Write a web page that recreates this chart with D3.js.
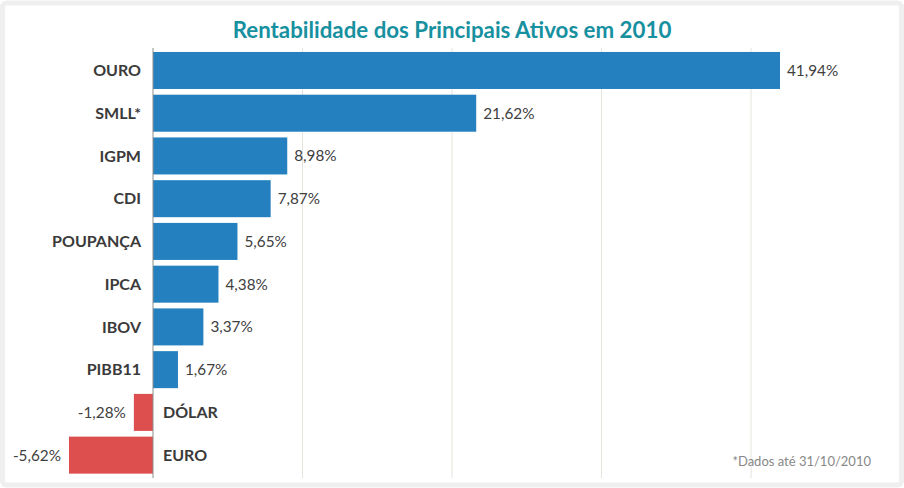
<!DOCTYPE html>
<html><head><meta charset="utf-8">
<script src="https://cdn.jsdelivr.net/npm/d3@7"></script>
<style>
body{margin:0;background:#fff;}
svg{display:block;font-family:Lato, "Open Sans", sans-serif;}
</style></head>
<body>
<svg id="c" width="904" height="488"></svg>
<script>
const categories = ["OURO","SMLL*","IGPM","CDI","POUPANÇA","IPCA","IBOV","PIBB11","DÓLAR","EURO"];
const values = [41.94,21.62,8.98,7.87,5.65,4.38,3.37,1.67,-1.28,-5.62];
const gridTicks = [10,20,30,40];
const title = "Rentabilidade dos Principais Ativos em 2010";
const footnote = "*Dados até 31/10/2010";

const svg = d3.select("#c");
const W = 904, H = 488;

// frame
svg.append("rect").attr("x",2.5).attr("y",3).attr("width",W-5).attr("height",H-6)
  .attr("rx",4).attr("fill","#fff").attr("stroke","#efefef").attr("stroke-width",5);

const x = d3.scaleLinear().domain([-10,50]).range([3.5,900.5]);
const y = d3.scaleBand().domain(categories).range([49.1,476.5]).paddingInner(0.134).paddingOuter(0.067);

// grid
svg.append("g").selectAll("line").data(gridTicks).join("line")
  .attr("x1",d=>x(d)).attr("x2",d=>x(d)).attr("y1",48).attr("y2",478)
  .attr("stroke","#e6e4dc").attr("stroke-width",1);

const fmt = v => d3.format(".2f")(v).replace(".",",").replace("\u2212","-") + "%";

// bars
svg.append("g").selectAll("rect").data(values).join("rect")
  .attr("x",d=>x(Math.min(0,d)))
  .attr("width",d=>Math.abs(x(d)-x(0)))
  .attr("y",(d,i)=>y(categories[i]))
  .attr("height",y.bandwidth())
  .attr("fill",d=>d>=0?"#2580bf":"#dd4f4e");

// zero axis
svg.append("line").attr("x1",x(0)).attr("x2",x(0)).attr("y1",48).attr("y2",478)
  .attr("stroke","#8c8c8c").attr("stroke-width",1);

// category labels
svg.append("g").selectAll("text").data(values).join("text")
  .attr("x",d=>d>=0?x(0)-12:x(0)+10)
  .attr("y",(d,i)=>y(categories[i])+y.bandwidth()/2)
  .attr("dy","0.36em")
  .attr("text-anchor",d=>d>=0?"end":"start")
  .attr("font-weight","bold").attr("font-size",16).attr("fill","#3a3a3a")
  .text((d,i)=>categories[i]);

// value labels
svg.append("g").selectAll("text").data(values).join("text")
  .attr("x",d=>d>=0?x(d)+7:x(d)-8)
  .attr("y",(d,i)=>y(categories[i])+y.bandwidth()/2)
  .attr("dy","0.36em")
  .attr("text-anchor",d=>d>=0?"start":"end")
  .attr("font-size",15.3).attr("fill","#404040")
  .text(d=>fmt(d));

// title
svg.append("text").attr("x",452).attr("y",38).attr("text-anchor","middle")
  .attr("font-weight","bold").attr("font-size",22.3).attr("fill","#17909f")
  .text(title);

// footnote
svg.append("text").attr("x",871).attr("y",466).attr("text-anchor","end")
  .attr("font-size",13).attr("fill","#888")
  .text(footnote);
</script>
</body></html>
